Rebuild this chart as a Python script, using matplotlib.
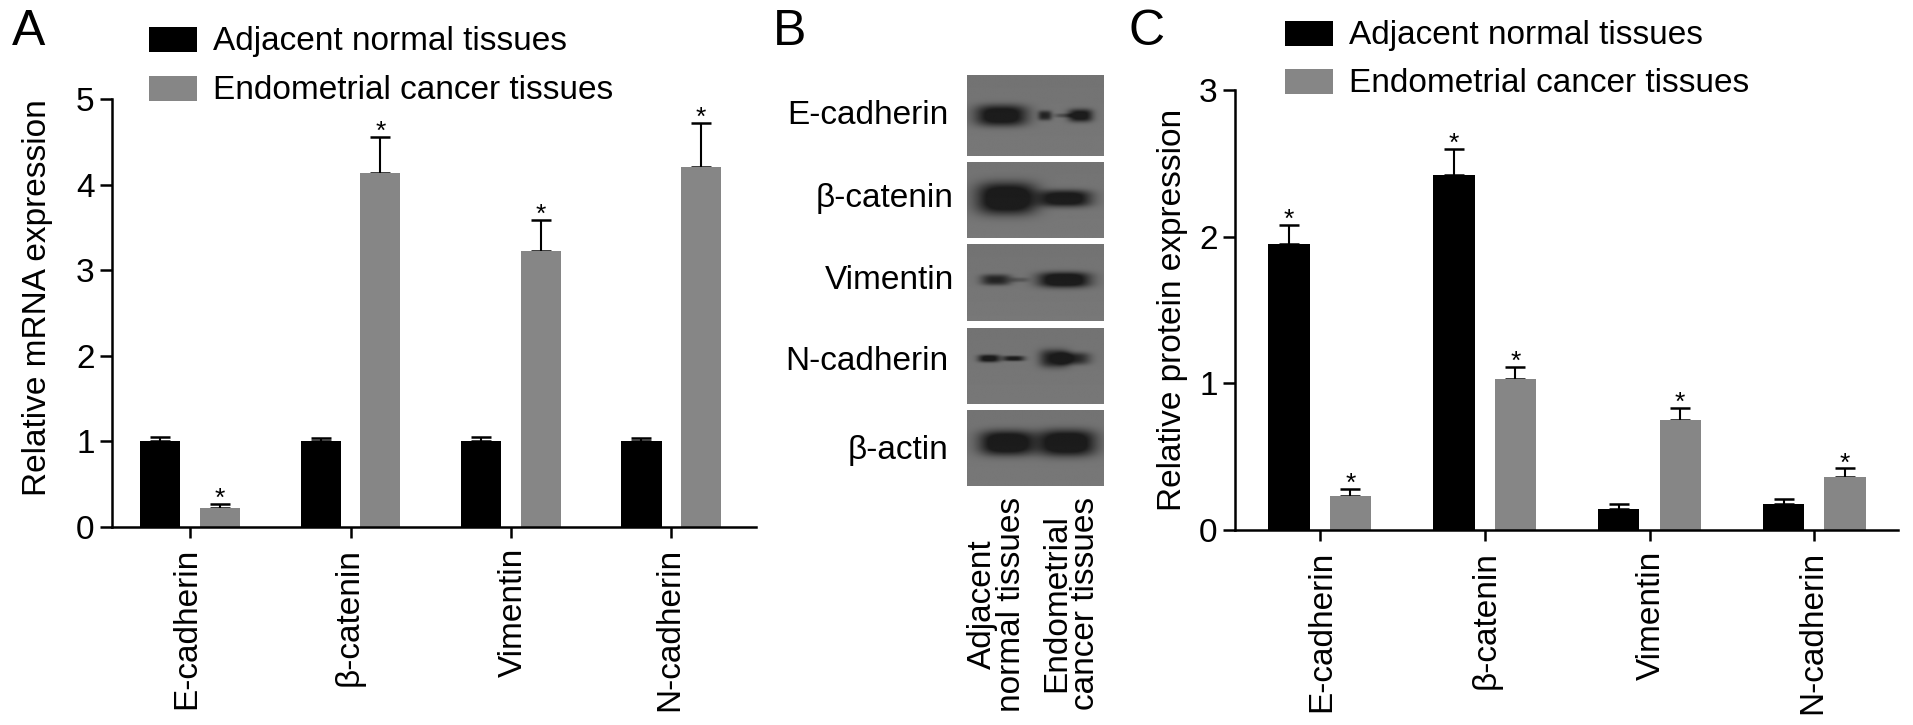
import numpy as np
import matplotlib
matplotlib.use('Agg')
import matplotlib.pyplot as plt
from matplotlib.patches import Rectangle
from matplotlib.transforms import ScaledTranslation

plt.rcParams['font.family'] = ['Liberation Sans', 'DejaVu Sans']

W, H = 1913, 725

genes = ['E-cadherin', '\u03b2-catenin', 'Vimentin', 'N-cadherin']
series_names = ['Adjacent normal tissues', 'Endometrial cancer tissues']

mrna_normal = [1.0, 1.0, 1.0, 1.0]
mrna_normal_err = [0.05, 0.04, 0.05, 0.04]
mrna_cancer = [0.22, 4.13, 3.23, 4.20]
mrna_cancer_err = [0.05, 0.43, 0.36, 0.52]

protein_normal = [1.95, 2.42, 0.14, 0.18]
protein_normal_err = [0.13, 0.18, 0.04, 0.03]
protein_cancer = [0.23, 1.03, 0.75, 0.36]
protein_cancer_err = [0.05, 0.08, 0.08, 0.06]

blot_labels = ['E-cadherin', '\u03b2-catenin', 'Vimentin', 'N-cadherin', '\u03b2-actin']
blot_lanes = ['Adjacent\nnormal tissues', 'Endometrial\ncancer tissues']
# bands seen on each row of the blot, estimated by eye: centre x, half width, half height, strength
band_rows = [
    [(0.25, 0.19, 0.13, 1.1), (0.57, 0.05, 0.06, 0.8), (0.71, 0.07, 0.025, 0.4), (0.83, 0.09, 0.08, 1.0)],
    [(0.29, 0.22, 0.21, 1.2), (0.72, 0.19, 0.11, 1.1)],
    [(0.21, 0.11, 0.07, 0.8), (0.38, 0.07, 0.03, 0.3), (0.71, 0.19, 0.10, 1.2)],
    [(0.16, 0.08, 0.05, 1.0), (0.34, 0.08, 0.035, 0.9), (0.64, 0.11, 0.12, 0.85), (0.78, 0.12, 0.08, 0.75)],
    [(0.29, 0.20, 0.16, 1.2), (0.73, 0.21, 0.17, 1.2)],
]
band_y = [0.50, 0.48, 0.465, 0.40, 0.44]

BLACK = '#000000'
GREY = '#868686'
FS = 24


def px_axes(fig, left, top, right, bottom):
    return fig.add_axes([left / W, 1 - bottom / H, (right - left) / W, (bottom - top) / H])


def bar_panel(fig, box, xlim, ylim, yticks, ylabel, label_x, label_y, shifts,
              normal, normal_err, cancer, cancer_err, star_normal):
    ax = px_axes(fig, *box)
    x = np.arange(len(genes))
    width = 0.25
    off = 0.186
    ax.bar(x - off, normal, width, color=BLACK, zorder=2)
    ax.bar(x + off, cancer, width, color=GREY, zorder=2)
    ax.errorbar(x - off, normal, yerr=[np.zeros(4), normal_err], fmt='none', ecolor=BLACK,
                elinewidth=1.5, capsize=7, capthick=1.8, zorder=1)
    ax.errorbar(x + off, cancer, yerr=[np.zeros(4), cancer_err], fmt='none', ecolor=BLACK,
                elinewidth=1.5, capsize=7, capthick=1.8, zorder=1)
    for i in range(4):
        ax.annotate('*', (x[i] + off, cancer[i] + cancer_err[i]), xytext=(0, 5),
                    textcoords='offset pixels', ha='center', va='center', fontsize=19)
        if star_normal[i]:
            ax.annotate('*', (x[i] - off, normal[i] + normal_err[i]), xytext=(0, 5),
                        textcoords='offset pixels', ha='center', va='center', fontsize=19)
    ax.set_xlim(*xlim)
    ax.set_ylim(0, ylim)
    ax.set_yticks(yticks)
    ax.set_xticks(x)
    ax.set_xticklabels(genes, rotation=90, fontsize=FS)
    ax.tick_params(axis='y', labelsize=FS, width=1.8, length=8.5, pad=4)
    ax.tick_params(axis='x', width=1.8, length=8, pad=7)
    # the labels do not sit evenly under their ticks in the original
    for lab, shift in zip(ax.get_xticklabels(), shifts):
        nudge = ScaledTranslation(shift / 100, 0, fig.dpi_scale_trans)
        lab.set_transform(lab.get_transform() + nudge)
    ax.set_ylabel(ylabel, fontsize=FS)
    ax.yaxis.set_label_coords((label_x - box[0]) / (box[2] - box[0]), label_y)
    for s in ['top', 'right']:
        ax.spines[s].set_visible(False)
    for s in ['left', 'bottom']:
        ax.spines[s].set_linewidth(1.8)
    return ax


def legend(fig, x0, y0, dy):
    ax = fig.add_axes([0, 0, 1, 1], facecolor='none')
    ax.set_xlim(0, W)
    ax.set_ylim(H, 0)
    ax.axis('off')
    for i, (name, c) in enumerate(zip(series_names, [BLACK, GREY])):
        ax.add_patch(Rectangle((x0, y0 + i * dy - 12.5), 48, 25, color=c, lw=0))
        ax.text(x0 + 64, y0 + i * dy + 2, name, fontsize=FS, va='center', ha='left')


def blot_image(row, nx=220, ny=90):
    xx, yy = np.meshgrid(np.linspace(0, 1, nx), np.linspace(0, 1, ny))
    img = 0.46 + 0.02 * (yy - 0.5)
    dark = np.zeros_like(img)
    for cx, w, h, s in band_rows[row]:
        dark += s * np.exp(-np.abs((xx - cx) / w) ** 3 - np.abs((yy - band_y[row]) / h) ** 3)
    return np.clip(img - 0.35 * np.clip(dark * 1.15, 0, 1), 0, 1)


def blot_panel(fig):
    left, right = 967, 1104
    rows = [(75, 156), (162, 238), (244, 321), (328, 404), (410, 486)]
    label_right = [948, 954, 954, 948, 948]
    label_y = [116, 199, 281, 362, 451]
    for i, (top, bottom) in enumerate(rows):
        ax = px_axes(fig, left, top, right, bottom)
        ax.imshow(blot_image(i), cmap='gray', vmin=0, vmax=1, aspect='auto',
                  interpolation='bilinear')
        ax.axis('off')
        fig.text(label_right[i] / W, 1 - label_y[i] / H, blot_labels[i], ha='right',
                 va='center', fontsize=FS)
    for cx, name in zip([997, 1071], blot_lanes):
        fig.text(cx / W, 1 - 497 / H, name, rotation=90, ha='center', va='top',
                 fontsize=FS, linespacing=0.92, multialignment='center')


def main():
    fig = plt.figure(figsize=(W / 100, H / 100), dpi=100)
    bar_panel(fig, (112, 99, 756, 527), (-0.487, 3.528), 5, [0, 1, 2, 3, 4, 5],
              'Relative mRNA expression', 53, 0.535, [-3.5, -1, 2, -2],
              mrna_normal, mrna_normal_err, mrna_cancer, mrna_cancer_err,
              [False, False, False, False])
    bar_panel(fig, (1235, 90, 1898, 530), (-0.514, 3.507), 3, [0, 1, 2, 3],
              'Relative protein expression', 1188, 0.5, [1.5, 1.5, 1.5, -2],
              protein_normal, protein_normal_err, protein_cancer, protein_cancer_err,
              [True, True, False, False])
    blot_panel(fig)
    legend(fig, 149, 39, 49)
    legend(fig, 1285, 33, 48)
    for x, y, t in [(29, 32, 'A'), (790, 32, 'B'), (1147, 32, 'C')]:
        fig.text(x / W, 1 - y / H, t, fontsize=36, ha='center', va='center')
    fig.savefig('out.png', dpi=100)


if __name__ == '__main__':
    main()
